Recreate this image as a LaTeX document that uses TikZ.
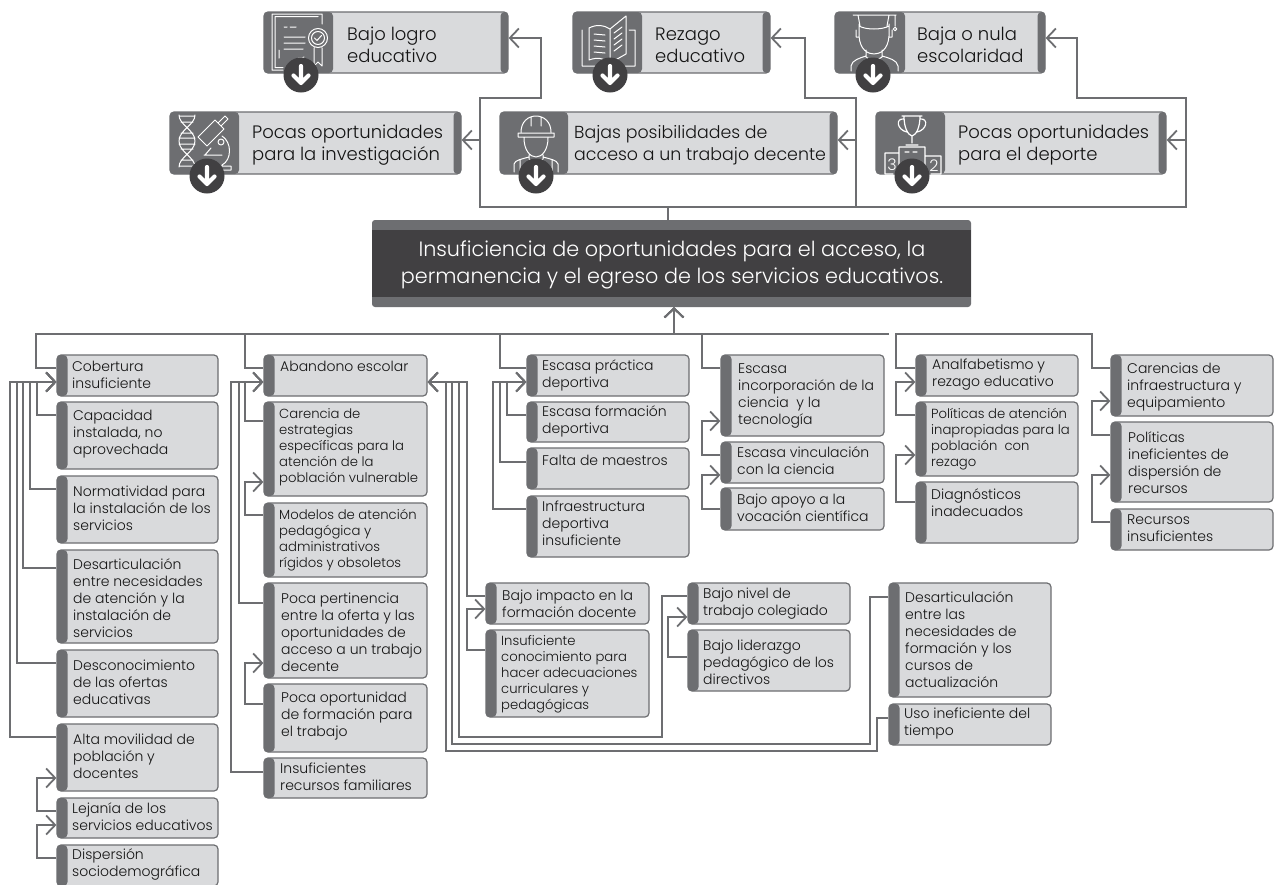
\documentclass[tikz,border=0pt]{standalone}
\usepackage{fontspec}
\setmainfont{Poppins}[UprightFont=* Light,BoldFont=* Medium]
\usetikzlibrary{arrows.meta}
\definecolor{gb}{HTML}{6D6E71}
\definecolor{fb}{HTML}{D9DADC}
\definecolor{dk}{HTML}{414042}
\tikzset{
 ln/.style={draw=gb,line width=1.8pt,line join=miter},
 ar/.style={ln,-{Straight Barb[length=9pt,width=19pt,line width=1.8pt]}},
 ic/.style={draw=white,line width=1pt,line cap=round,line join=round},
 txs/.style={font=\fontsize{14}{17}\selectfont,text=black!92,align=left,anchor=west,inner sep=0pt},
 txm/.style={font=\fontsize{13.2}{16}\selectfont,text=black!92,align=left,anchor=west,inner sep=0pt},
 txb/.style={font=\fontsize{18}{22}\selectfont,text=black!92,align=left,anchor=west,inner sep=0pt},
}
% small box: name,x1,y1,x2,y2,textx,texty,style,text
\newcommand\bx[9]{%
 \pgfmathsetmacro\bw{#4-#2}\pgfmathsetmacro\bh{#5-#3}%
 \pgfmathsetmacro\cx{(#2+#4)/2}\pgfmathsetmacro\cy{(#3+#5)/2}%
 \node[rectangle,rounded corners=4pt,draw=gb,line width=1.2pt,fill=fb,inner sep=0pt,
   minimum width=\bw pt,minimum height=\bh pt,
   path picture={\fill[gb] (path picture bounding box.north west) rectangle ([xshift=10.5pt]path picture bounding box.south west);}] (#1) at (\cx,\cy) {};
 \node[#8] (#1t) at (#6,#7) {#9};
}
% top box: name,x1,y1,x2,y2,iconx,textx,texty,text
\newcommand\tb[9]{%
 \pgfmathsetmacro\bw{#4-#2}\pgfmathsetmacro\bh{#5-#3}%
 \pgfmathsetmacro\cx{(#2+#4)/2}\pgfmathsetmacro\cy{(#3+#5)/2}%
 \pgfmathsetmacro\iw{#6-#2}%
 \node[rectangle,rounded corners=4pt,draw=gb,line width=1.2pt,fill=fb,inner sep=0pt,
   minimum width=\bw pt,minimum height=\bh pt,
   path picture={\fill[gb] (path picture bounding box.north west) rectangle ([xshift=\iw pt]path picture bounding box.south west);
     \fill[gb] (path picture bounding box.north east) rectangle ([xshift=-7.5pt]path picture bounding box.south east);}] (#1) at (\cx,\cy) {};
 \node[txb] (#1t) at (#7,#8) {#9};
}
\newcommand\dn[3]{%
 \node[circle,fill=dk,inner sep=0pt,minimum size=35pt] (#1) at (#2,#3) {};
 \draw[white,line width=4.2pt,line cap=round,line join=round] (#2,#3-9) -- (#2,#3+7) (#2-7.5,#3+0.5) -- (#2,#3+8) -- (#2+7.5,#3+0.5);
}
\begin{document}
\begin{tikzpicture}[x=1pt,y=-1pt]
\useasboundingbox (0,0) rectangle (1277,884);
\fill[white] (0,0) rectangle (1277,884);

% ---------- title
\node[rectangle,rounded corners=3pt,fill=gb,inner sep=0pt,minimum width=599pt,minimum height=87pt] (cen) at (671.5,263.5) {};
\node[rectangle,fill=dk,inner sep=0pt,minimum width=599pt,minimum height=67pt] (ceni) at (671.5,263.5) {};
\node[font=\fontsize{20.75}{27}\selectfont,text=white,align=center,inner sep=0pt] (cent) at (672,264.5) {Insuficiencia de oportunidades para el acceso, la\\permanencia y el egreso de los servicios educativos.};

% ---------- top boxes
\tb{logro}{264}{12}{508}{73}{333}{347}{45}{Bajo logro\\educativo}
\tb{rez}{573}{12}{770}{73}{642}{655}{45}{Rezago\\educativo}
\tb{esc}{835}{12}{1045}{73}{905}{917}{45}{Baja o nula\\escolaridad}
\tb{inv}{170}{112}{461}{174}{239}{252}{145.5}{Pocas oportunidades\\para la investigación}
\tb{tra}{500}{112}{837}{174}{568}{574}{145.5}{\fontsize{17.4}{22}\selectfont Bajas posibilidades de\\\fontsize{17.4}{22}\selectfont acceso a un trabajo decente}
\tb{dep}{876}{112}{1166}{174}{945}{958}{145.5}{Pocas oportunidades\\para el deporte}

% ---------- top connectors
\draw[ar] (668,0 |- cen.north) -- (668,207) -- (480,207) -- (480,98) -- (541,98) -- (541,38) -- (logro.east |- 0,38);
\draw[ar] (668,0 |- cen.north) -- (668,207) -- (480,207) -- (480,140) -- (inv.east |- 0,140);
\draw[ar] (668,0 |- cen.north) -- (668,207) -- (856,207) -- (856,98) -- (805,98) -- (805,38) -- (rez.east |- 0,38);
\draw[ar] (668,0 |- cen.north) -- (668,207) -- (856,207) -- (856,140) -- (tra.east |- 0,140);
\draw[ar] (668,0 |- cen.north) -- (668,207) -- (1186,207) -- (1186,98) -- (1077,98) -- (1077,38) -- (esc.east |- 0,38);
\draw[ar] (668,0 |- cen.north) -- (668,207) -- (1186,207) -- (1186,140) -- (dep.east |- 0,140);

% ---------- icons
% certificate
\draw[ic] (322,24) -- (322,14) -- (272,14) -- (272,70) -- (283,70) (318,16.5) -- (275,16.5) -- (275,67.5) -- (283,67.5)
 (284,27) -- (287,27) (290,27) -- (296,27) (284,37) -- (305,37) (284,43) -- (305,43) (284,49) -- (303,49) (279,50) -- (279,58) (296,60) .. controls (299,56) and (301,60) .. (304,57);
\draw[ic] (318,38) circle (9.5) (318,38) circle (6.5) (314.5,38) -- (317,40.5) -- (321.5,35.5) (314,48) -- (314,66) -- (318,62) -- (322,66) -- (322,48);
% book
\draw[ic] (589,28) .. controls (597,24) and (604,25) .. (610,29) -- (610,63) .. controls (604,58) and (597,57) .. (589,60) -- cycle
 (610,29) -- (626,16) -- (626,54) -- (610,63) (582,30) -- (582,66) -- (607,66) (613,66) -- (635,66) -- (635,30) -- (629,30)
 (594,34) -- (605,35) (594,40) -- (605,41) (594,46) -- (605,47) (594,52) -- (605,53)
 (614,33) -- (622,27) (614,39) -- (622,33) (614,45) -- (622,39) (614,51) -- (622,45);
% graduate
\draw[ic] (853,15) -- (896,15) (858,15) -- (860,26) (889,15) -- (887,26) (895,15) -- (895,26) (895,29) circle (1.8)
 (859,24) -- (859,36) .. controls (860,50) and (868,54) .. (874,54) .. controls (880,54) and (888,50) .. (889,36) -- (889,24)
 (859,26) .. controls (866,30) and (882,30) .. (889,26)
 (856,30) -- (856,37) -- (859,37) (892,30) -- (892,37) -- (889,37)
 (866,50) -- (866,57) -- (874,62) -- (882,57) -- (882,50)
 (851,71) -- (851,66) .. controls (852,60) and (860,58) .. (866,56) (898,71) -- (898,66) .. controls (897,60) and (889,58) .. (882,56);
% DNA
\draw[ic] (179,115) .. controls (179,125) and (195,130) .. (195,141) .. controls (195,152) and (179,157) .. (179,167)
 (195,115) .. controls (195,125) and (179,130) .. (179,141) .. controls (179,152) and (195,157) .. (195,167)
 (179,116) -- (195,116) (181,122) -- (193,122) (181,133) -- (193,133) (179,138) -- (195,138) (179,144) -- (195,144) (181,149) -- (193,149) (181,160) -- (193,160) (179,166) -- (195,166);
% microscope
\draw[ic] (198,137) -- (207,146) -- (224,129) -- (215,120) -- cycle (218,123) -- (225,116) -- (228,119) -- (221,126)
 (222,136) .. controls (232,142) and (232,160) .. (222,165) (202,166) -- (231,166) -- (231,170) -- (210,170)
 (204,155) -- (222,155) (211,148) -- (205,155);
\draw[ic] (221,142) circle (3);
% worker
\draw[ic] (521,132) .. controls (521,122) and (528,116) .. (536,116) .. controls (544,116) and (551,122) .. (551,132) (518,133) -- (554,133) -- (554,137) -- (518,137) -- cycle
 (531,117) -- (531,126) (541,117) -- (541,126) (524,138) .. controls (524,150) and (530,157) .. (536,157) .. controls (542,157) and (548,150) .. (548,138)
 (529,155) -- (529,159) -- (536,166) -- (543,159) -- (543,155)
 (514,172) -- (514,164) .. controls (515,160) and (522,159) .. (529,157) (558,172) -- (558,164) .. controls (557,160) and (550,159) .. (543,157)
 (520,160) -- (520,172) (552,160) -- (552,172);
% trophy
\draw[ic,line width=1.2pt] (902,116) -- (922,116) (904,116) .. controls (904,128) and (908,135) .. (912,136) .. controls (916,135) and (920,128) .. (920,116)
 (904,119) .. controls (895,118) and (897,130) .. (907,132) (920,119) .. controls (929,118) and (927,130) .. (917,132)
 (912,136) -- (912,143) (906,145) -- (918,145)
 (899,147) -- (925,147) -- (925,172) (899,147) -- (899,172) (885,153) -- (899,153) (885,153) -- (885,174) -- (893,174) (925,156) -- (941,156) -- (941,174) -- (931,174)
 (905,152) -- (909,152) (913,152) -- (917,152);
\node[font=\fontsize{16}{16}\selectfont,text=white,inner sep=0pt] (n3) at (892,165) {3};
\node[font=\fontsize{16}{16}\selectfont,text=white,inner sep=0pt] (n2) at (934,166) {2};

\dn{d1}{301}{75}
\dn{d2}{610}{75}
\dn{d3}{873}{75}
\dn{d4}{207}{176}
\dn{d5}{536}{176}
\dn{d6}{912}{176}

% ---------- column 1
\bx{a1}{57}{355}{218}{396}{72}{375}{txs}{Cobertura\\insuficiente}
\bx{a2}{57}{402}{218}{469}{73}{434}{txs}{Capacidad\\instalada, no\\aprovechada}
\bx{a3}{57}{476}{218}{543}{73}{508}{txs}{Normatividad para\\la instalación de los\\servicios}
\bx{a4}{57}{550}{218}{643}{73}{598}{txs}{Desarticulación\\entre necesidades\\de atención y la\\instalación de\\servicios}
\bx{a5}{57}{650}{218}{717}{73}{682}{txs}{Desconocimiento\\de las ofertas\\educativas}
\bx{a6}{57}{724}{218}{791}{73}{756}{txs}{Alta movilidad de\\población y\\docentes}
\bx{a7}{57}{798}{218}{838}{72}{817}{txs}{Lejanía de los\\servicios educativos}
\bx{a8}{57}{845}{218}{886}{72}{864}{txs}{Dispersión\\sociodemográfica}
% ---------- column 2
\bx{b1}{264}{355}{427}{396}{280}{366}{txs}{Abandono escolar}
\bx{b2}{264}{402}{427}{496}{279}{447}{txm}{Carencia de\\estrategias\\específicas para la\\atención de la\\población vulnerable}
\bx{b3}{264}{503}{427}{577}{279}{540}{txm}{Modelos de atención\\pedagógica y\\administrativos\\rígidos y obsoletos}
\bx{b4}{264}{583}{427}{678}{281}{632}{txs}{Poca pertinencia\\entre la oferta y las\\oportunidades de\\acceso a un trabajo\\decente}
\bx{b5}{264}{684}{427}{752}{281}{716}{txs}{Poca oportunidad\\de formación para\\el trabajo}
\bx{b6}{264}{758}{427}{798}{280}{777}{txs}{Insuficientes\\recursos familiares}
% ---------- column 3
\bx{c1}{527}{355}{689}{396}{542}{375}{txs}{Escasa práctica\\deportiva}
\bx{c2}{527}{402}{689}{442}{542}{421}{txs}{Escasa formación\\deportiva}
\bx{c3}{527}{448}{689}{489}{542}{460}{txs}{Falta de maestros}
\bx{c4}{527}{496}{689}{557}{542}{523}{txs}{Infraestructura\\deportiva\\insuficiente}
% ---------- column 4
\bx{d1b}{721}{355}{884}{436}{738}{396}{txs}{Escasa\\incorporación de la\\ciencia\ \ y la\\tecnología}
\bx{d2b}{721}{442}{884}{483}{737}{461}{txs}{Escasa vinculación\\con la ciencia}
\bx{d3b}{721}{488}{884}{530}{737}{508}{txs}{Bajo apoyo a la\\vocación científica}
% ---------- column 5
\bx{e1}{916}{355}{1078}{396}{932}{375}{txs}{Analfabetismo y\\rezago educativo}
\bx{e2}{916}{402}{1078}{476}{931}{439}{txm}{Políticas de atención\\inapropiadas para la\\población\ \ con\\rezago}
\bx{e3}{916}{482}{1078}{543}{931}{503}{txs}{Diagnósticos\\inadecuados}
% ---------- column 6
\bx{f1}{1111}{355}{1273}{416}{1127}{387}{txs}{Carencias de\\infraestructura y\\equipamiento}
\bx{f2}{1111}{422}{1273}{502}{1128}{463}{txs}{Políticas\\ineficientes de\\dispersión de\\recursos}
\bx{f3}{1111}{509}{1273}{550}{1127}{528}{txs}{Recursos\\insuficientes}
% ---------- lower middle
\bx{g1}{486}{583}{649}{624}{502}{604}{txs}{Bajo impacto en la\\formación docente}
\bx{g2}{486}{630}{649}{717}{501}{674}{txm}{Insuficiente\\conocimiento para\\hacer adecuaciones\\curriculares y\\pedagógicas}
\bx{h1}{688}{583}{850}{624}{703}{604}{txs}{Bajo nivel de\\trabajo colegiado}
\bx{h2}{688}{630}{850}{691}{703}{662}{txs}{Bajo liderazgo\\pedagógico de los\\directivos}
\bx{i1}{889}{583}{1051}{697}{905}{640}{txs}{Desarticulación\\entre las\\necesidades de\\formación y los\\cursos de\\actualización}
\bx{i2}{889}{704}{1051}{745}{904}{723}{txs}{Uso ineficiente del\\tiempo}

% ---------- main lower connectors
\coordinate (stub) at (889,334);
\draw[ar] (a1.west |- 0,368) -- (36,368) -- (36,334) -- (674,334) -- (674,0 |- cen.south);
\draw[ar] (b1.west |- 0,368) -- (245,368) -- (245,334) -- (674,334) -- (674,0 |- cen.south);
\draw[ar] (c1.west |- 0,368) -- (500,368) -- (500,334) -- (674,334) -- (674,0 |- cen.south);
\draw[ar] (d1b.west |- 0,368) -- (702,368) -- (702,334) -- (674,334) -- (674,0 |- cen.south);
\draw[ln] (674,334) -- (stub);
\draw[ln] (e1.west |- 0,368) -- (896,368) -- (896,334) -- (1092,334) -- (1092,368) -- (f1.west |- 0,368);

% column 1 links
\draw[ar] (a2.west |- 0,415) -- (37,415) -- (37,382) -- (a1.west |- 0,382);
\draw[ar] (a3.west |- 0,489) -- (30,489) -- (30,382) -- (a1.west |- 0,382);
\draw[ar] (a4.west |- 0,568) -- (23,568) -- (23,382) -- (a1.west |- 0,382);
\draw[ar] (a5.west |- 0,663) -- (17,663) -- (17,382) -- (a1.west |- 0,382);
\draw[ar] (a6.west |- 0,737) -- (10,737) -- (10,382) -- (a1.west |- 0,382);
\draw[ar] (a7.west |- 0,811) -- (37,811) -- (37,778) -- (a6.west |- 0,778);
\draw[ar] (a8.west |- 0,858) -- (37,858) -- (37,825) -- (a7.west |- 0,825);
% column 2 links
\draw[ar] (b2.west |- 0,421) -- (245,421) -- (245,382) -- (b1.west |- 0,382);
\draw[ar] (b4.west |- 0,603) -- (239,603) -- (239,382) -- (b1.west |- 0,382);
\draw[ar] (b6.west |- 0,772) -- (231,772) -- (231,382) -- (b1.west |- 0,382);
\draw[ar] (b3.west |- 0,515) -- (245,515) -- (245,482) -- (b2.west |- 0,482);
\draw[ar] (b5.west |- 0,704) -- (245,704) -- (245,663) -- (b4.west |- 0,663);
% column 3 links
\draw[ar] (c2.west |- 0,415) -- (507,415) -- (507,382) -- (c1.west |- 0,382);
\draw[ar] (c3.west |- 0,462) -- (500,462) -- (500,382) -- (c1.west |- 0,382);
\draw[ar] (c4.west |- 0,509) -- (493,509) -- (493,382) -- (c1.west |- 0,382);
% column 4 links
\draw[ar] (d2b.west |- 0,455) -- (702,455) -- (702,421) -- (d1b.west |- 0,421);
\draw[ar] (d3b.west |- 0,509) -- (702,509) -- (702,475) -- (d2b.west |- 0,475);
% column 5 links
\draw[ar] (e2.west |- 0,415) -- (896,415) -- (896,382) -- (e1.west |- 0,382);
\draw[ar] (e3.west |- 0,502) -- (896,502) -- (896,455) -- (e2.west |- 0,455);
% column 6 links
\draw[ar] (f2.west |- 0,435) -- (1092,435) -- (1092,401) -- (f1.west |- 0,401);
\draw[ar] (f3.west |- 0,522) -- (1092,522) -- (1092,475) -- (f2.west |- 0,475);
% lower middle links
\draw[ar] (g1.west |- 0,596) -- (467,596) -- (467,382) -- (b1.east |- 0,382);
\draw[ar] (h1.west |- 0,596) -- (662,596) -- (662,737) -- (459,737) -- (459,382) -- (b1.east |- 0,382);
\draw[ar] (i1.west |- 0,597) -- (870,597) -- (870,744) -- (452,744) -- (452,382) -- (b1.east |- 0,382);
\draw[ar] (i2.west |- 0,718) -- (877,718) -- (877,751) -- (446,751) -- (446,382) -- (b1.east |- 0,382);
\draw[ar] (g2.west |- 0,650) -- (467,650) -- (467,609) -- (g1.west |- 0,609);
\draw[ar] (h2.west |- 0,657) -- (668,657) -- (668,617) -- (h1.west |- 0,617);
\end{tikzpicture}
\end{document}
